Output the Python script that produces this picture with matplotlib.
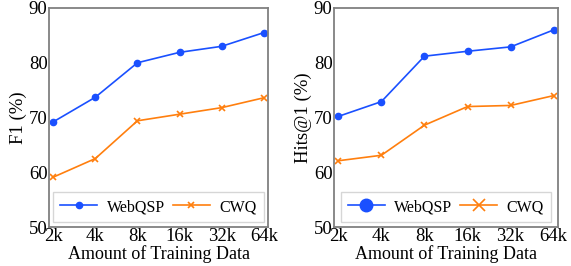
import matplotlib
matplotlib.use("Agg")
import matplotlib.pyplot as plt

plt.rcParams['font.family'] = ['Liberation Serif', 'DejaVu Serif']

sizes = ['2k', '4k', '8k', '16k', '32k', '64k']
f1_webqsp = [69.2, 73.7, 80.0, 81.9, 83.0, 85.5]
f1_cwq = [59.1, 62.5, 69.4, 70.6, 71.8, 73.6]
hits_webqsp = [70.2, 72.9, 81.2, 82.1, 82.9, 86.0]
hits_cwq = [62.1, 63.1, 68.6, 72.0, 72.2, 74.0]

blue = '#1a50ff'
orange = '#ff7f0e'

fig = plt.figure(figsize=(5.71, 2.66), dpi=100)
ax1 = fig.add_axes([49 / 571, 1 - 227 / 266, 219 / 571, 219 / 266])
ax2 = fig.add_axes([334 / 571, 1 - 227 / 266, 224 / 571, 219 / 266])

panels = [
    (ax1, f1_webqsp, f1_cwq, 'F1 (%)', 1.0),
    (ax2, hits_webqsp, hits_cwq, 'Hits@1 (%)', 2.0),
]

x = range(len(sizes))
for ax, web, cwq, ylabel, mscale in panels:
    ax.plot(x, web, color=blue, marker='o', markersize=4.5, lw=1.2, label='WebQSP')
    ax.plot(x, cwq, color=orange, marker='x', markersize=4, mew=1.2, lw=1.2, label='CWQ')
    ax.set_xlim(-0.1, 5.1)
    ax.set_ylim(50, 90)
    ax.set_yticks([50, 60, 70, 80, 90])
    ax.set_xticks(list(x))
    ax.set_xticklabels(sizes)
    ax.tick_params(length=0, labelsize=13.5, pad=1)
    ax.set_ylabel(ylabel, fontsize=13.5, labelpad=1)
    ax.set_xlabel('Amount of Training Data', fontsize=13, labelpad=0)
    for s in ax.spines.values():
        s.set_color('#808080')
        s.set_linewidth(1.3)
    leg = ax.legend(loc='lower center', ncol=2, fontsize=11.5, markerscale=mscale,
                    handlelength=2.3, handletextpad=0.6, columnspacing=0.5,
                    fancybox=False, edgecolor='#cccccc', borderaxespad=0.3,
                    borderpad=0.45)
    leg.get_frame().set_linewidth(1.0)

fig.savefig('out.png', dpi=100)
